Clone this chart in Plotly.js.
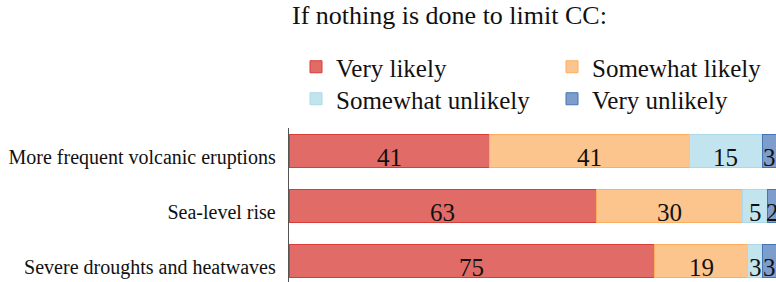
<!DOCTYPE html>
<html>
<head>
<meta charset="utf-8">
<script src="https://cdn.plot.ly/plotly-3.0.1.min.js"></script>
<style>html,body{margin:0;padding:0;background:#fff;}</style>
</head>
<body>
<div id="chart" style="width:776px;height:282px;"></div>
<script>
// ---- data ----
const categories = ["More frequent volcanic eruptions", "Sea-level rise", "Severe droughts and heatwaves"];
const seriesNames = ["Very likely", "Somewhat likely", "Somewhat unlikely", "Very unlikely"];
const veryLikely = [41, 63, 75];
const somewhatLikely = [41, 30, 19];
const somewhatUnlikely = [15, 5, 3];
const veryUnlikely = [3, 2, 3];
const chartTitle = "If nothing is done to limit CC:";

// ---- styles ----
const fills = ["rgb(225,107,103)", "rgb(253,197,142)", "rgb(194,228,238)", "rgb(125,158,205)"];
const edges = ["rgb(218,60,55)", "rgb(253,174,97)", "rgb(171,217,233)", "rgb(69,117,180)"];
const FONT = "'Liberation Serif', 'DejaVu Serif', serif";
const W = 776, H = 282, ML = 289, MT = 128;
const PW = W - ML, PH = H - MT;
// legend slot positions (pixels): left edge of each legend box, centre of its row
const legendSlots = [[296, 67], [552, 67], [296, 99], [552, 99]];

const series = [veryLikely, somewhatLikely, somewhatUnlikely, veryUnlikely];
const legendIds = ["legend", "legend2", "legend3", "legend4"];
const traces = series.map((vals, i) => ({
  type: "bar",
  orientation: "h",
  name: seriesNames[i],
  y: categories,
  x: vals,
  width: 0.6,
  legend: legendIds[i],
  marker: {color: fills[i], line: {color: edges[i], width: 1}},
  hoverinfo: "skip"
}));

// value labels placed at segment centres (computed from the data)
const annotations = [];
const cum = categories.map(() => 0);
series.forEach((vals) => {
  vals.forEach((v, j) => {
    annotations.push({
      x: cum[j] + v / 2, y: categories[j], xref: "x", yref: "y",
      text: String(v), showarrow: false, yshift: -6,
      font: {family: FONT, size: 25, color: "#111"}
    });
    cum[j] += v;
  });
});

const layout = {
  width: W, height: H,
  margin: {l: ML, r: 0, t: MT, b: 0, pad: 0, autoexpand: false},
  paper_bgcolor: "#fff", plot_bgcolor: "#fff",
  barmode: "stack",
  showlegend: true,
  font: {family: FONT, color: "#111"},
  title: {
    text: chartTitle, xref: "container", yref: "container",
    x: 292 / W, xanchor: "left", y: 1 - 6 / H, yanchor: "top",
    font: {family: FONT, size: 26, color: "#111"}
  },
  xaxis: {range: [0, 99.8], visible: false, showgrid: false, zeroline: false, fixedrange: true},
  yaxis: {
    type: "category", categoryorder: "array", categoryarray: categories,
    range: [2.376, -0.424], showgrid: false, zeroline: false,
    showline: true, linecolor: "#555", linewidth: 1.3, ticks: "",
    ticklabelstandoff: 8, ticklabelshift: -6,
    tickfont: {family: FONT, size: 20, color: "#111"}
  },
  annotations: annotations
};
legendIds.forEach((id, i) => {
  layout[id] = {
    orientation: "v", xref: "paper", yref: "paper",
    x: (legendSlots[i][0] - ML) / PW, xanchor: "left",
    y: (H - legendSlots[i][1]) / PH, yanchor: "middle",
    font: {family: FONT, size: 25, color: "#111"},
    bgcolor: "rgba(0,0,0,0)", borderwidth: 0
  };
});

Plotly.newPlot("chart", traces, layout, {staticPlot: true, displayModeBar: false});
</script>
</body>
</html>
